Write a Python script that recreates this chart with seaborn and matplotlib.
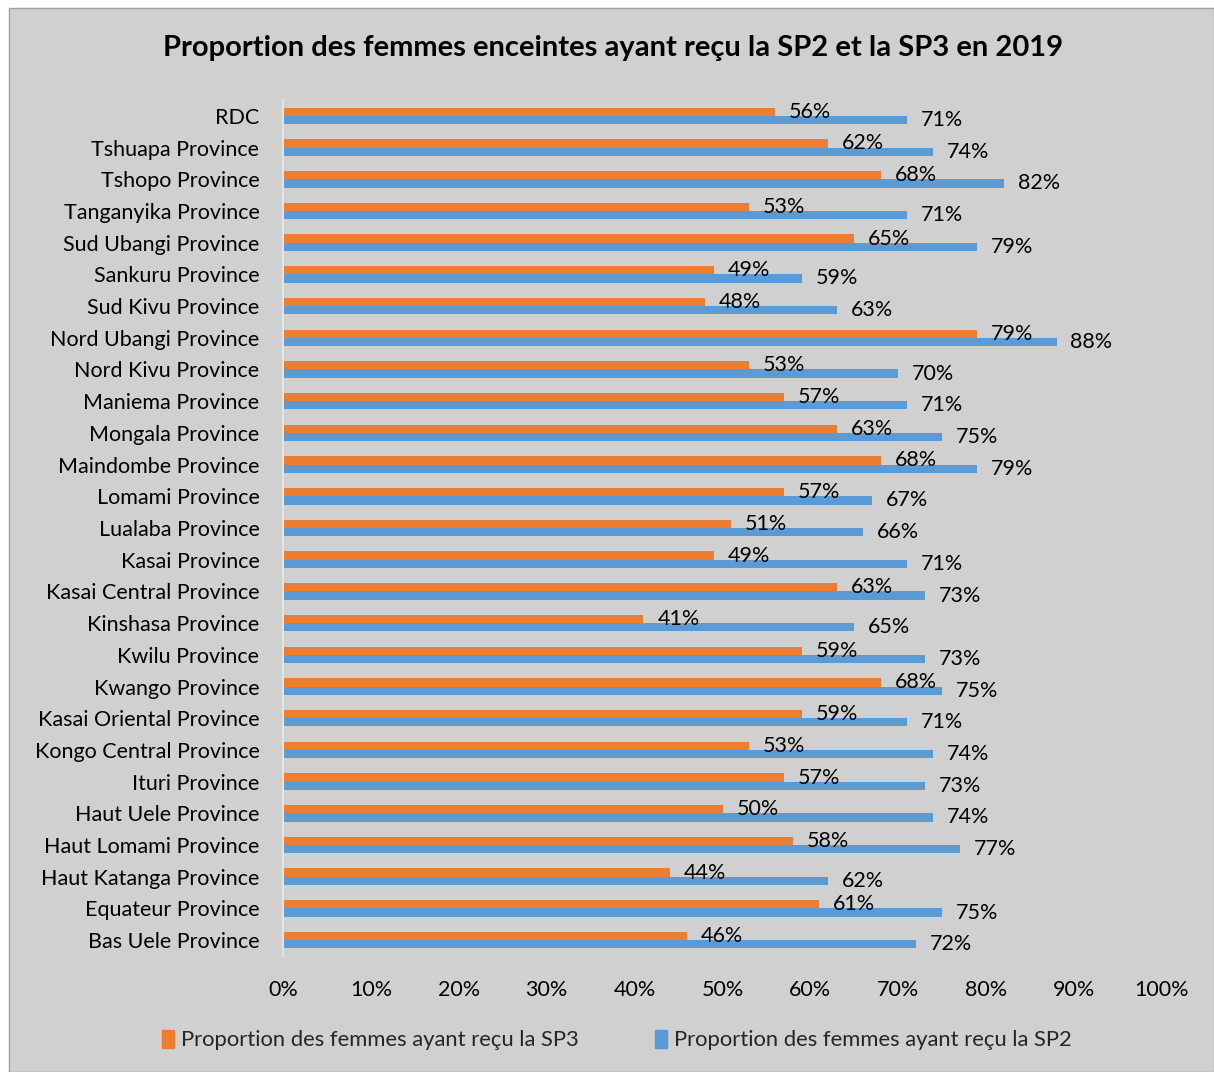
import pandas as pd
import matplotlib.pyplot as plt
import seaborn as sns
from matplotlib.patches import Rectangle
from matplotlib.ticker import PercentFormatter

provinces = ['RDC', 'Tshuapa Province', 'Tshopo Province', 'Tanganyika Province',
             'Sud Ubangi Province', 'Sankuru Province', 'Sud Kivu Province',
             'Nord Ubangi Province', 'Nord Kivu Province', 'Maniema Province',
             'Mongala Province', 'Maindombe Province', 'Lomami Province',
             'Lualaba Province', 'Kasai Province', 'Kasai Central Province',
             'Kinshasa Province', 'Kwilu Province', 'Kwango Province',
             'Kasai Oriental Province', 'Kongo Central Province', 'Ituri Province',
             'Haut Uele Province', 'Haut Lomami Province', 'Haut Katanga Province',
             'Equateur Province', 'Bas Uele Province']
sp3 = [56, 62, 68, 53, 65, 49, 48, 79, 53, 57, 63, 68, 57, 51, 49, 63, 41, 59, 68,
       59, 53, 57, 50, 58, 44, 61, 46]
sp2 = [71, 74, 82, 71, 79, 59, 63, 88, 70, 71, 75, 79, 67, 66, 71, 73, 65, 73, 75,
       71, 74, 73, 74, 77, 62, 75, 72]
lab3 = 'Proportion des femmes ayant reçu la SP3'
lab2 = 'Proportion des femmes ayant reçu la SP2'

df = pd.concat([
    pd.DataFrame({'Province': provinces, 'Valeur': sp3, 'Serie': lab3}),
    pd.DataFrame({'Province': provinces, 'Valeur': sp2, 'Serie': lab2}),
])

bg = '#d0d0d0'
sns.set_style('white')
plt.rcParams['font.family'] = ['Lato', 'DejaVu Sans']

fig = plt.figure(figsize=(12.14, 10.72), dpi=100, facecolor='white')
fig.patches.append(Rectangle((9 / 1214, 0), 1 - 9 / 1214, 1 - 8 / 1072,
                             transform=fig.transFigure, facecolor=bg,
                             edgecolor='#a0a0a0', lw=1, zorder=-1))
ax = fig.add_axes([283 / 1214, 1 - 956 / 1072, (1162 - 283) / 1214, (956 - 100) / 1072])
ax.set_facecolor(bg)

sns.barplot(data=df, y='Province', x='Valeur', hue='Serie', orient='h',
            hue_order=[lab3, lab2], palette=['#ed7d31', '#5b9bd5'], saturation=1,
            width=0.52, gap=0, linewidth=0, ax=ax, legend=False)

for cont in ax.containers:
    ax.bar_label(cont, labels=[f'{int(round(v))}%' for v in cont.datavalues],
                 padding=10, fontsize=15.5, color='black')

ax.set_xlim(0, 100)
ax.set_xticks(range(0, 101, 10))
ax.xaxis.set_major_formatter(PercentFormatter(decimals=0))
ax.set_xlabel('')
ax.set_ylabel('')
ax.tick_params(axis='both', length=0, labelsize=15.5, colors='black')
ax.tick_params(axis='x', pad=17)
ax.tick_params(axis='y', pad=17)
for s in ['top', 'right', 'bottom']:
    ax.spines[s].set_visible(False)
ax.spines['left'].set_color('#e4e4e4')
ax.spines['left'].set_linewidth(1.5)

fig.suptitle('Proportion des femmes enceintes ayant reçu la SP2 et la SP3 en 2019',
             x=0.505, y=1 - 48 / 1072, va='center', fontsize=21, fontweight='bold',
             color='black')

handles = [Rectangle((0, 0), 1, 1, color='#ed7d31'), Rectangle((0, 0), 1, 1, color='#5b9bd5')]
fig.legend(handles, [lab3, lab2], loc='center', bbox_to_anchor=(0.508, 1 - 1040 / 1072),
           ncol=2, frameon=False, fontsize=15.8, handlelength=0.55, handleheight=0.9,
           handletextpad=0.3, columnspacing=3.5)

fig.savefig('out.png', dpi=100, facecolor=fig.get_facecolor())
